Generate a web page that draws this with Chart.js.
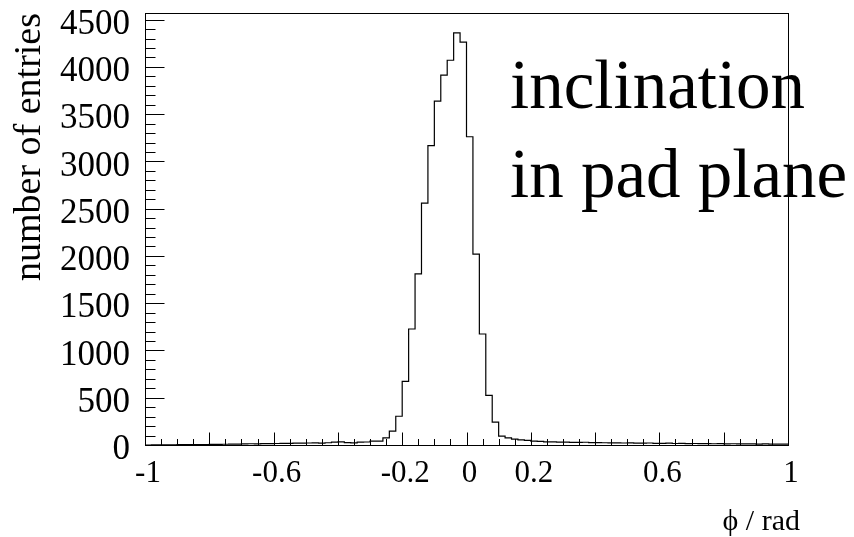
<!DOCTYPE html>
<html><head><meta charset="utf-8">
<script src="https://cdn.jsdelivr.net/npm/chart.js@4.4.1/dist/chart.umd.min.js"></script>
<style>html,body{margin:0;padding:0;background:#fff;}#wrap{width:854px;height:537px;}</style>
</head><body><div id="wrap"><canvas id="c" width="854" height="537"></canvas></div>
<script>
// ---- data ----
const xMin = -1, xMax = 1, binWidth = 0.02;
const binCounts = [
  0, 1, 1, 2, 2, 3, 3, 4, 5, 5,
  6, 7, 8, 9, 10, 12, 13, 12, 14, 15,
  16, 17, 18, 19, 20, 21, 22, 20, 24, 30,
  34, 26, 23, 30, 32, 40, 42, 76, 146, 304,
  674, 1227, 1811, 2558, 3166, 3638, 3912, 4070, 4359, 4261,
  3261, 2019, 1174, 526, 241, 93, 76, 63, 55, 48,
  42, 38, 34, 33, 30, 31, 28, 27, 29, 25,
  26, 24, 22, 23, 21, 22, 20, 19, 21, 18,
  17, 19, 16, 18, 15, 16, 14, 15, 13, 14,
  12, 13, 12, 11, 12, 10, 11, 10, 9, 10
];
const xTickLabelValues = [-1, -0.6, -0.2, 0, 0.2, 0.6, 1];
const yTickValues = [0, 500, 1000, 1500, 2000, 2500, 3000, 3500, 4000, 4500];
const yMax = 4570;
const yTitle = 'number of entries';
const xTitle = 'ϕ / rad';
const annotationLines = ['inclination', 'in pad plane'];

// histogram outline points (bin centres, plus range ends)
const points = [{x: xMin, y: binCounts[0]}];
binCounts.forEach((v, i) => points.push({x: xMin + binWidth * (i + 0.5), y: v}));
points.push({x: xMax, y: binCounts[binCounts.length - 1]});

const SERIF = '"Liberation Serif", "Times New Roman", serif';

const rootStyle = {
  id: 'rootStyle',
  afterDatasetsDraw(chart) {
    const {ctx, chartArea: ca, scales: {x, y}} = chart;
    const L = Math.round(ca.left) + 0.5, R = Math.round(ca.right) + 0.5;
    const T = Math.round(ca.top) + 0.5, B = Math.round(ca.bottom) + 0.5;
    ctx.save();
    ctx.strokeStyle = '#000';
    ctx.lineWidth = 1;
    ctx.strokeRect(L, T, R - L, B - T);
    ctx.beginPath();
    for (let k = 0; k <= 40; k++) {
      const v = xMin + k * 0.05;
      const px = Math.round(x.getPixelForValue(v)) + 0.5;
      const major = (k % 4 === 0);
      ctx.moveTo(px, B);
      ctx.lineTo(px, B - (major ? 13 : 6.5));
    }
    for (let k = 0; k <= 45; k++) {
      const v = k * 100;
      const py = Math.round(y.getPixelForValue(v)) + 0.5;
      const major = (k % 5 === 0);
      ctx.moveTo(L, py);
      ctx.lineTo(L + (major ? 19 : 10), py);
    }
    ctx.stroke();
    ctx.fillStyle = '#000';
    ctx.textBaseline = 'alphabetic';
    ctx.textAlign = 'left';
    ctx.font = '69px ' + SERIF;
    ctx.fillText(annotationLines[0], 510, 108);
    ctx.fillText(annotationLines[1], 510, 197);
    ctx.textAlign = 'right';
    ctx.font = '30px ' + SERIF;
    ctx.fillText(xTitle, 800, 530);
    ctx.restore();
  }
};

new Chart(document.getElementById('c'), {
  type: 'line',
  data: {
    datasets: [{
      data: points,
      stepped: 'middle',
      borderColor: '#000',
      borderWidth: 1.2,
      pointRadius: 0,
      fill: false
    }]
  },
  options: {
    responsive: false,
    devicePixelRatio: 1,
    animation: false,
    layout: {padding: {left: 0, right: 66, top: 13, bottom: 0}},
    plugins: {legend: {display: false}, tooltip: {enabled: false}},
    scales: {
      x: {
        type: 'linear', min: xMin, max: xMax, position: 'bottom',
        grid: {display: false, drawTicks: false},
        border: {display: false},
        afterBuildTicks: s => { s.ticks = xTickLabelValues.map(v => ({value: v})); },
        afterFit: s => { s.height = 92; s.paddingLeft = 0; s.paddingRight = 0; s.paddingTop = 0; s.paddingBottom = 0; },
        ticks: {
          color: '#000', padding: 10, maxRotation: 0, autoSkip: false, labelOffset: 3,
          font: {family: SERIF, size: 31},
          callback: v => String(Math.round(v * 10) / 10)
        }
      },
      y: {
        type: 'linear', min: 0, max: yMax, position: 'left',
        grid: {display: false, drawTicks: false},
        border: {display: false},
        afterBuildTicks: s => { s.ticks = yTickValues.map(v => ({value: v})); },
        afterFit: s => { s.width = 145; s.paddingTop = 0; s.paddingBottom = 0; s.paddingLeft = 0; s.paddingRight = 0; },
        ticks: {
          color: '#000', padding: 15, labelOffset: 5,
          font: {family: SERIF, size: 35},
          callback: v => String(v)
        },
        title: {
          display: true, text: yTitle, align: 'end', color: '#000',
          font: {family: SERIF, size: 38},
          padding: {top: 7, bottom: 0}
        }
      }
    }
  },
  plugins: [rootStyle]
});
</script>
</body></html>
